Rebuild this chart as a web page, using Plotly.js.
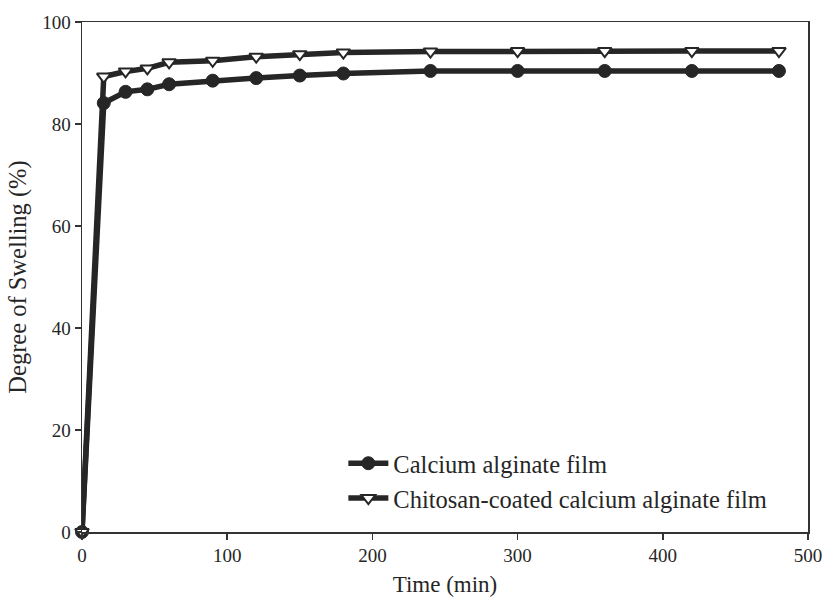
<!DOCTYPE html>
<html>
<head>
<meta charset="utf-8">
<script src="https://cdn.plot.ly/plotly-3.0.1.min.js"></script>
<style>html,body{margin:0;padding:0;background:#fff;}#chart{width:828px;height:599px;}</style>
</head>
<body>
<div id="chart"></div>
<script>
const timeMin = [0, 15, 30, 45, 60, 90, 120, 150, 180, 240, 300, 360, 420, 480];
const calciumAlginate = [0, 84.1, 86.3, 86.8, 87.8, 88.5, 89.0, 89.5, 89.9, 90.4, 90.4, 90.4, 90.4, 90.4];
const chitosanCoated = [0, 89.3, 90.3, 90.9, 92.1, 92.4, 93.2, 93.7, 94.0, 94.2, 94.3, 94.3, 94.3, 94.3];
const seriesNames = ["Calcium alginate film", "Chitosan-coated calcium alginate film"];
const xTicks = [0, 100, 200, 300, 400, 500];
const yTicks = [0, 20, 40, 60, 80, 100];

const lineColor = "#262626";
const traces = [
  {
    x: timeMin, y: calciumAlginate, name: seriesNames[0], type: "scatter", mode: "lines+markers",
    line: {color: lineColor, width: 5.5},
    marker: {symbol: "circle", size: 13, color: lineColor, line: {color: lineColor, width: 1}},
    cliponaxis: false
  },
  {
    x: timeMin, y: chitosanCoated, name: seriesNames[1], type: "scatter", mode: "lines+markers",
    line: {color: lineColor, width: 5.5},
    marker: {symbol: "triangle-down", size: 12, color: "#ffffff", line: {color: lineColor, width: 2}},
    cliponaxis: false
  }
];

const fam = "Liberation Serif, Times New Roman, serif";
const txt = "#262626";
const layout = {
  width: 828, height: 599,
  margin: {l: 82, r: 20, t: 22, b: 67},
  paper_bgcolor: "#fff", plot_bgcolor: "#fff",
  font: {family: fam, color: txt, size: 18},
  showlegend: true,
  legend: {
    x: 0.36, y: 0.022, xanchor: "left", yanchor: "bottom",
    bgcolor: "rgba(0,0,0,0)", font: {family: fam, size: 24.5, color: txt},
    tracegroupgap: 0, itemwidth: 40
  },
  xaxis: {
    range: [0, 500], tickvals: xTicks, ticktext: xTicks.map(String),
    showgrid: false, zeroline: false, showline: true, linecolor: "#333", linewidth: 1.5, mirror: true,
    ticks: "outside", ticklen: 6, tickcolor: "#333", tickwidth: 1.5,
    tickfont: {family: fam, size: 19, color: txt},
    title: {text: "Time (min)", font: {family: fam, size: 23, color: txt}, standoff: 10}
  },
  yaxis: {
    range: [0, 100], tickvals: yTicks, ticktext: yTicks.map(String),
    showgrid: false, zeroline: false, showline: true, linecolor: "#333", linewidth: 1.5, mirror: true,
    ticks: "outside", ticklen: 6, tickcolor: "#333", tickwidth: 1.5,
    tickfont: {family: fam, size: 19, color: txt},
    title: {text: "Degree of Swelling (%)", font: {family: fam, size: 24.5, color: txt}, standoff: 8}
  }
};
Plotly.newPlot("chart", traces, layout, {staticPlot: true, displayModeBar: false});
</script>
</body>
</html>
